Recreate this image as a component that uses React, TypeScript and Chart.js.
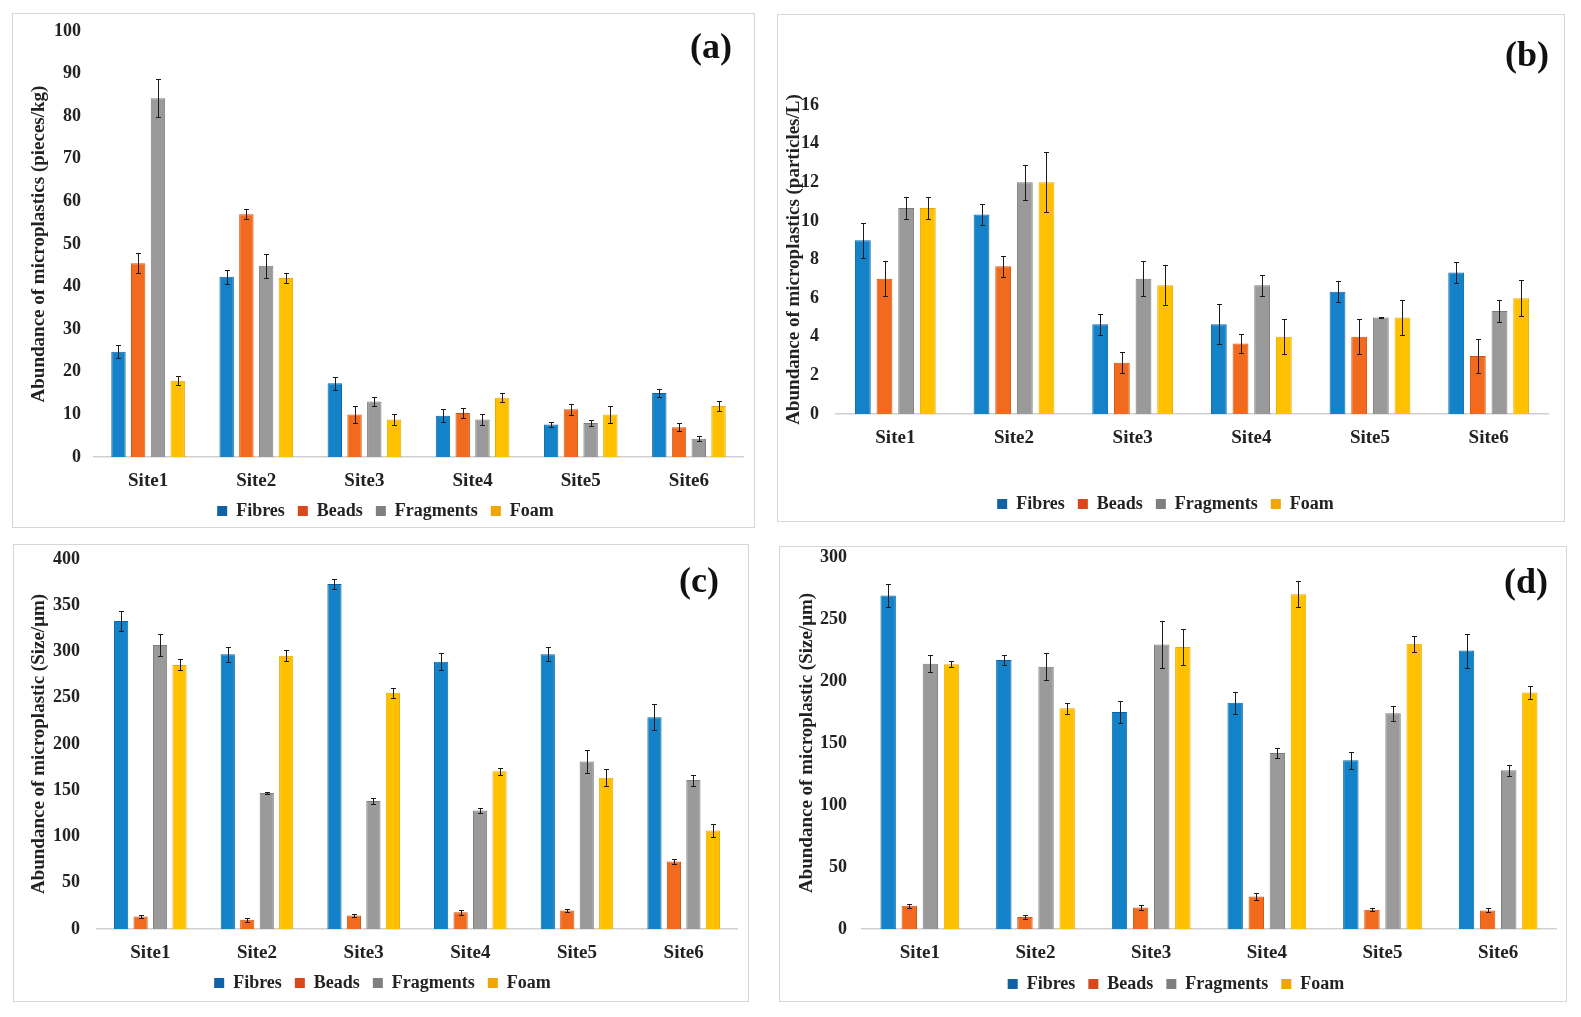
import React, { useEffect, useRef } from "react";
import { Chart, registerables } from "chart.js";

Chart.register(...registerables);

const sites = ["Site1", "Site2", "Site3", "Site4", "Site5", "Site6"];
const seriesNames = ["Fibres", "Beads", "Fragments", "Foam"];

// Panel (a): pieces/kg
const fibresA = [24.7, 42.3, 17.3, 9.7, 7.6, 15.0];
const beadsA = [45.5, 57.0, 10.0, 10.3, 11.2, 7.0];
const fragmentsA = [84.2, 44.9, 13.0, 8.8, 8.0, 4.3];
const foamA = [17.9, 42.0, 8.8, 13.9, 10.0, 12.0];
const fibresErrA = [1.5, 1.6, 1.5, 1.5, 0.5, 0.9];
const beadsErrA = [2.3, 1.2, 2.0, 1.1, 1.3, 1.0];
const fragmentsErrA = [4.5, 2.8, 1.0, 1.2, 0.8, 0.6];
const foamErrA = [1.1, 1.1, 1.2, 1.1, 2.0, 1.1];

// Panel (b): particles/L
const fibresB = [9.0, 10.33, 4.65, 4.65, 6.33, 7.33];
const beadsB = [7.0, 7.65, 2.65, 3.65, 4.0, 3.0];
const fragmentsB = [10.67, 12.0, 7.0, 6.67, 5.0, 5.33];
const foamB = [10.67, 12.0, 6.67, 4.0, 5.0, 6.0];
const fibresErrB = [0.9, 0.55, 0.55, 1.05, 0.55, 0.55];
const beadsErrB = [0.9, 0.55, 0.55, 0.5, 0.9, 0.9];
const fragmentsErrB = [0.55, 0.9, 0.9, 0.55, 0.03, 0.55];
const foamErrB = [0.55, 1.55, 1.05, 0.9, 0.9, 0.95];

// Panel (c): Size/μm
const fibresC = [333, 297, 373, 289, 297, 229];
const beadsC = [13.5, 10, 14.5, 18, 20, 73];
const fragmentsC = [307, 147, 138.5, 128, 181, 161];
const foamC = [285.5, 295.5, 255.5, 170.5, 163.5, 106.5];
const fibresErrC = [11, 8, 5, 9, 7.5, 14];
const beadsErrC = [2, 2, 1.5, 3, 1.5, 2.5];
const fragmentsErrC = [12, 1.5, 3, 2.5, 12, 6];
const foamErrC = [6, 6, 5.5, 3.5, 9, 6.5];

// Panel (d): Size/μm
const fibresD = [269, 217, 175, 182.5, 136, 224.5];
const beadsD = [18.8, 9.7, 17.4, 26.3, 15.6, 15];
const fragmentsD = [214, 211.5, 229.5, 142, 174, 128];
const foamD = [213.6, 178, 227.5, 270, 230, 190.8];
const fibresErrD = [9, 4.3, 9, 9, 7, 13.7];
const beadsErrD = [1.6, 1.8, 2.2, 2.7, 1.4, 1.6];
const fragmentsErrD = [7, 11, 19, 4.3, 6, 4.3];
const foamErrD = [2.7, 4.5, 14.5, 10.5, 6.5, 5.4];

const yTitleA = "Abundance of microplastics (pieces/kg)";
const yTitleB = "Abundance of microplastics (particles/L)";
const yTitleC = "Abundance of microplastic (Size/μm)";
const yTitleD = "Abundance of microplastic (Size/μm)";

const barFill = ["#1482C8", "#F26A1E", "#9A9A9A", "#FFC000"];
const barEdge = ["#0A65A6", "#D0540F", "#7C7C7C", "#E9A900"];
const legendFill = ["#0F62A6", "#D9471A", "#7F7F7F", "#F0A500"];

const FONT = "'Liberation Serif', 'Times New Roman', serif";
const TEXT = "#222222";

type PanelSpec = {
  key: string;
  label: string;
  rect: { left: number; top: number; width: number; height: number };
  labelPos: [number, number];
  values: number[][];
  errors: number[][];
  yMax: number;
  yStep: number;
  yTitle: string;
  pad: { left: number; right: number; top: number; bottom: number };
  yWidth: number;
  xHeight: number;
  tickPad: number;
};

const panels: PanelSpec[] = [
  {
    key: "a", label: "(a)",
    rect: { left: 12, top: 13, width: 743, height: 515 },
    labelPos: [699, 36],
    values: [fibresA, beadsA, fragmentsA, foamA],
    errors: [fibresErrA, beadsErrA, fragmentsErrA, foamErrA],
    yMax: 100, yStep: 10, yTitle: yTitleA,
    pad: { left: 16, right: 12, top: 18, bottom: -2 },
    yWidth: 66, xHeight: 32, tickPad: 13,
  },
  {
    key: "b", label: "(b)",
    rect: { left: 777, top: 14, width: 788, height: 508 },
    labelPos: [750, 43],
    values: [fibresB, beadsB, fragmentsB, foamB],
    errors: [fibresErrB, beadsErrB, fragmentsErrB, foamErrB],
    yMax: 16, yStep: 2, yTitle: yTitleB,
    pad: { left: 6, right: 17, top: 91, bottom: -1 },
    yWidth: 53, xHeight: 68, tickPad: 17,
  },
  {
    key: "c", label: "(c)",
    rect: { left: 13, top: 544, width: 736, height: 458 },
    labelPos: [686, 39],
    values: [fibresC, beadsC, fragmentsC, foamC],
    errors: [fibresErrC, beadsErrC, fragmentsErrC, foamErrC],
    yMax: 400, yStep: 50, yTitle: yTitleC,
    pad: { left: 15, right: 12, top: 15, bottom: 0 },
    yWidth: 69, xHeight: 32, tickPad: 17,
  },
  {
    key: "d", label: "(d)",
    rect: { left: 779, top: 546, width: 788, height: 456 },
    labelPos: [747, 38],
    values: [fibresD, beadsD, fragmentsD, foamD],
    errors: [fibresErrD, beadsErrD, fragmentsErrD, foamErrD],
    yMax: 300, yStep: 50, yTitle: yTitleD,
    pad: { left: 17, right: 11, top: 11, bottom: -1 },
    yWidth: 66, xHeight: 33, tickPad: 15,
  },
];

const errorBarPlugin = {
  id: "errorBars",
  afterDatasetsDraw(chart: any) {
    const ctx = chart.ctx;
    const yScale = chart.scales.y;
    ctx.save();
    ctx.strokeStyle = "#1a1a1a";
    ctx.lineWidth = 1;
    chart.data.datasets.forEach((ds: any, di: number) => {
      const meta = chart.getDatasetMeta(di);
      const errs: number[] = ds.errors || [];
      meta.data.forEach((bar: any, i: number) => {
        const v = ds.data[i];
        const e = errs[i] || 0;
        const x = Math.round(bar.x) + 0.5;
        const yt = Math.round(yScale.getPixelForValue(v + e)) + 0.5;
        const yb = Math.round(yScale.getPixelForValue(v - e)) + 0.5;
        ctx.beginPath();
        ctx.moveTo(x, yt);
        ctx.lineTo(x, yb);
        ctx.moveTo(x - 2.5, yt);
        ctx.lineTo(x + 2.5, yt);
        ctx.moveTo(x - 2.5, yb);
        ctx.lineTo(x + 2.5, yb);
        ctx.stroke();
      });
    });
    ctx.restore();
  },
};

function Panel({ spec }: { spec: PanelSpec }) {
  const ref = useRef<HTMLCanvasElement | null>(null);
  useEffect(() => {
    if (!ref.current) return;
    const labelPlugin = {
      id: "panelLabel",
      afterDraw(chart: any) {
        const ctx = chart.ctx;
        ctx.save();
        ctx.font = `bold 36px ${FONT}`;
        ctx.fillStyle = "#111";
        ctx.textAlign = "center";
        ctx.textBaseline = "middle";
        ctx.fillText(spec.label, spec.labelPos[0], spec.labelPos[1]);
        ctx.restore();
      },
    };
    const chart = new Chart(ref.current, {
      type: "bar",
      data: {
        labels: sites,
        datasets: seriesNames.map((name, i) => ({
          label: name,
          data: spec.values[i],
          errors: spec.errors[i],
          backgroundColor: barFill[i],
          borderColor: barEdge[i],
          borderWidth: 1,
          categoryPercentage: 0.73,
          barPercentage: 0.73,
        })) as any,
      },
      options: {
        responsive: false,
        animation: false,
        devicePixelRatio: 1,
        layout: { padding: spec.pad },
        plugins: {
          tooltip: { enabled: false },
          legend: {
            position: "bottom",
            labels: {
              boxWidth: 10,
              boxHeight: 10,
              padding: 13,
              color: TEXT,
              font: { family: FONT, size: 18, weight: "bold" },
              generateLabels: (chart: any) =>
                Chart.defaults.plugins.legend.labels
                  .generateLabels(chart)
                  .map((l: any, i: number) => ({
                    ...l,
                    fillStyle: legendFill[i],
                    strokeStyle: legendFill[i],
                    lineWidth: 0,
                  })),
            },
          },
        },
        scales: {
          x: {
            grid: { display: false, drawTicks: false },
            border: { display: true, color: "#d0d0d0", width: 1.5 },
            ticks: {
              color: TEXT,
              padding: 13,
              font: { family: FONT, size: 19, weight: "bold" },
            },
            afterFit: (scale: any) => {
              scale.height = spec.xHeight;
              scale.paddingLeft = 0;
              scale.paddingRight = 0;
            },
          },
          y: {
            min: 0,
            max: spec.yMax,
            grid: { display: false, drawTicks: false },
            border: { display: false },
            ticks: {
              stepSize: spec.yStep,
              color: TEXT,
              padding: spec.tickPad,
              font: { family: FONT, size: 18, weight: "bold" },
            },
            title: {
              display: true,
              text: spec.yTitle,
              color: TEXT,
              padding: { top: 0, bottom: 0 },
              font: { family: FONT, size: 19, weight: "bold" },
            },
            afterFit: (scale: any) => {
              scale.width = spec.yWidth;
              scale.paddingTop = 0;
              scale.paddingBottom = 0;
            },
          },
        },
      } as any,
      plugins: [errorBarPlugin, labelPlugin],
    });
    return () => chart.destroy();
  }, [spec]);

  const r = spec.rect;
  return (
    <>
      <div
        style={{
          position: "absolute",
          left: r.left,
          top: r.top,
          width: r.width,
          height: r.height,
          boxSizing: "border-box",
          border: "1.5px solid #d6d6d6",
        }}
      />
      <canvas
        ref={ref}
        width={r.width}
        height={r.height}
        style={{
          position: "absolute",
          left: r.left,
          top: r.top,
          width: r.width,
          height: r.height,
        }}
      />
    </>
  );
}

export default function App() {
  return (
    <div
      style={{
        position: "absolute",
        left: 0,
        top: 0,
        width: 1581,
        height: 1017,
        background: "#ffffff",
        overflow: "hidden",
      }}
    >
      {panels.map((p) => (
        <Panel key={p.key} spec={p} />
      ))}
    </div>
  );
}
